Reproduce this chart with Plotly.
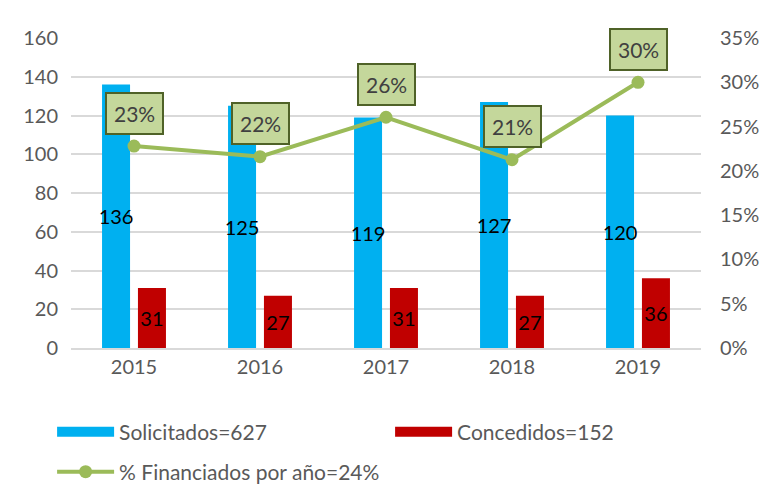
import plotly.graph_objects as go

years = ["2015", "2016", "2017", "2018", "2019"]
solicitados = [136, 125, 119, 127, 120]
concedidos = [31, 27, 31, 27, 36]
pct_financiado = [22.8, 21.6, 26.05, 21.26, 30.0]
pct_labels = ["23%", "22%", "26%", "21%", "30%"]
left_ticks = [0, 20, 40, 60, 80, 100, 120, 140, 160]
right_ticks = [0, 5, 10, 15, 20, 25, 30, 35]
right_tick_text = ["0%", "5%", "10%", "15%", "20%", "25%", "30%", "35%"]
name_sol = "Solicitados=627"
name_con = "Concedidos=152"
name_pct = "% Financiados por año=24%"

FONT = "Lato"
GRAY = "#595959"
BLUE = "#00B0F0"
RED = "#C00000"
GREEN = "#9BBB59"

fig = go.Figure()
fig.add_trace(go.Bar(
    x=years, y=solicitados, name=name_sol, showlegend=False,
    marker=dict(color=BLUE, line=dict(width=0)),
    text=[str(v) for v in solicitados], textposition="inside", textangle=0,
    insidetextanchor="middle", constraintext="none",
    textfont=dict(family=FONT, size=20, color="black"),
))
fig.add_trace(go.Bar(
    x=years, y=concedidos, name=name_con, showlegend=False,
    marker=dict(color=RED, line=dict(width=0)),
    text=[str(v) for v in concedidos], textposition="inside", textangle=0,
    insidetextanchor="middle", constraintext="none",
    textfont=dict(family=FONT, size=20, color="black"),
))
fig.add_trace(go.Scatter(
    x=years, y=pct_financiado, name=name_pct, legend="legend2",
    yaxis="y2", mode="lines+markers",
    line=dict(color=GREEN, width=4),
    marker=dict(color=GREEN, size=13),
))
# legend swatches for the bar series (wide rectangles as in the reference)
fig.add_trace(go.Scatter(x=[None], y=[None], mode="lines", name=name_sol,
                         line=dict(color=BLUE, width=14), legend="legend"))
fig.add_trace(go.Scatter(x=[None], y=[None], mode="lines", name=name_con,
                         line=dict(color=RED, width=14), legend="legend"))

for i, (v, lab) in enumerate(zip(pct_financiado, pct_labels)):
    fig.add_annotation(
        x=i, y=v, xref="x", yref="y2", text=lab, showarrow=False,
        yshift=33, font=dict(family=FONT, size=21, color="#404040"),
        bgcolor="#C4D79B", bordercolor="#4F6228", borderwidth=2, borderpad=7,
    )

legend_common = dict(
    orientation="h", xanchor="left", yanchor="middle",
    itemwidth=57, font=dict(family=FONT, size=21, color=GRAY),
    traceorder="normal", bgcolor="rgba(0,0,0,0)",
)

fig.update_layout(
    width=769, height=487,
    margin=dict(l=63, r=76, t=30, b=147, autoexpand=False),
    paper_bgcolor="white", plot_bgcolor="white",
    barmode="group", bargap=0.43, bargroupgap=0.22,
    uniformtext=dict(minsize=20, mode="show"),
    font=dict(family=FONT, size=20, color=GRAY),
    showlegend=True,
    legend=dict(x=-0.03, y=-0.271, entrywidth=266, entrywidthmode="pixels",
                **legend_common),
    legend2=dict(x=-0.03, y=-0.40, **legend_common),
    xaxis=dict(
        type="category", range=[-0.5, 4.5], showgrid=False, ticks="", showline=True,
        linecolor="#D9D9D9", linewidth=2, automargin=False,
        tickfont=dict(family=FONT, size=20, color=GRAY),
    ),
    yaxis=dict(
        range=[0, 160], tickvals=left_ticks, showgrid=True, automargin=False,
        gridcolor="#D9D9D9", gridwidth=1.5, zeroline=False, ticks="",
        tickfont=dict(family=FONT, size=20, color=GRAY), ticklabelstandoff=12,
    ),
    yaxis2=dict(
        range=[0, 35], tickvals=right_ticks, ticktext=right_tick_text,
        overlaying="y", side="right", showgrid=False, zeroline=False,
        ticks="", automargin=False, tickfont=dict(family=FONT, size=20, color=GRAY),
        ticklabelstandoff=18,
    ),
)

fig.write_html("out.html")
